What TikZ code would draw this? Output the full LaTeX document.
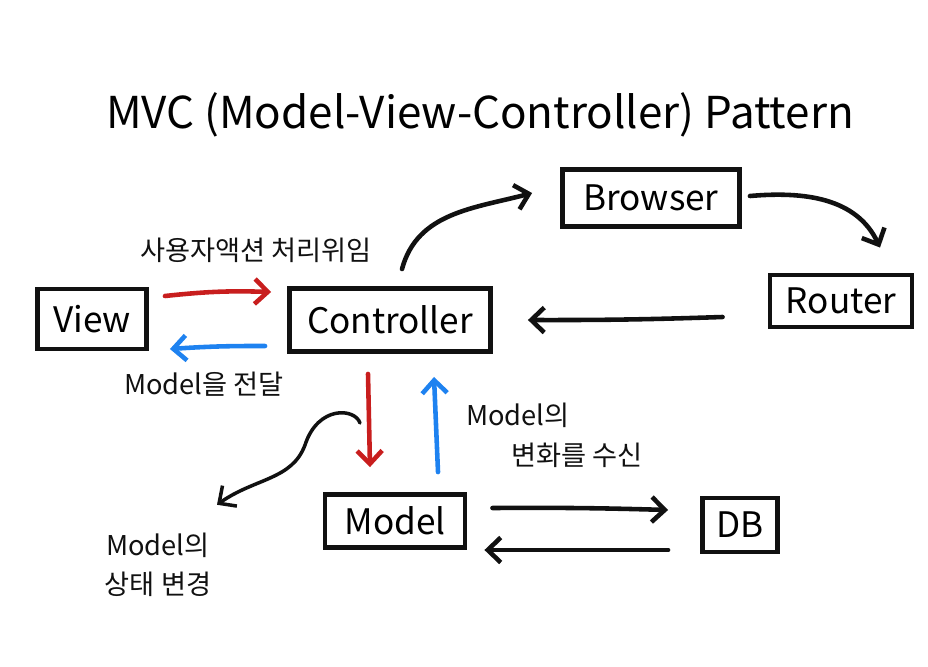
\documentclass[tikz,border=0pt]{standalone}
\usepackage{fontspec}
\setmainfont{Noto Sans CJK KR}
\usetikzlibrary{arrows.meta, positioning, calc}
\definecolor{cred}{HTML}{C81E1E}
\definecolor{cblue}{HTML}{1E82F0}
\definecolor{cink}{HTML}{111111}
\tikzset{
  every picture/.style={line width=2.6pt, line cap=round},
  box/.style={draw=cink, line width=2.8pt, align=center, inner sep=2pt, font=\fontsize{20}{22}\selectfont},
  arrow/.style={-{Straight Barb[length=2.6mm, width=5mm]}, draw=#1, line width=2.6pt},
  arrow/.default=cink,
  title/.style={font=\fontsize{25}{28}\selectfont},
  note/.style={font=\fontsize{15.5}{22.5}\selectfont, align=center, text=cink},
}

\begin{document}
\begin{tikzpicture}[x=0.02cm, y=-0.02cm]
  \useasboundingbox (0,0) rectangle (928,666);
  \node[title] (head) at (480,115) {MVC (Model-View-Controller) Pattern};
  % boxes
  \node[box, minimum width=2.18cm, minimum height=1.2cm] (view) at (92,319) {View};
  \node[box, minimum width=4.02cm, minimum height=1.26cm] (ctrl) at (390,320) {Controller};
  \node[box, minimum width=3.54cm, minimum height=1.14cm] (browser) at (651,198) {Browser};
  \node[box, minimum width=2.84cm, minimum height=1.04cm] (router) at (841,301) {Router};
  \node[box, minimum width=2.8cm, minimum height=1.06cm] (model) at (395,521) {Model};
  \node[box, minimum width=1.5cm, minimum height=1.08cm] (db) at (740,525) {DB};
  % view <-> controller
  \draw[arrow=cred] ([shift={(16,-23)}]view.east) to[bend left=4] ([shift={(-16,-28)}]ctrl.west);
  \draw[arrow=cblue] ([shift={(-22,26)}]ctrl.west) to[bend right=2] ([shift={(21,30)}]view.east);
  \node[note] (delegate) at (256,250) {사용자액션 처리위임};
  \node[note] (pass) at (204,384) {Model을 전달};
  % request loop
  \draw[arrow] ([shift={(12,-17)}]ctrl.north) to[out=75, in=195] ([shift={(-28,-5)}]browser.west);
  \draw[arrow] ([shift={(8,-2)}]browser.east) to[out=5, in=115] ([shift={(39,-25)}]router.north);
  \draw[arrow] ([shift={(-45,16)}]router.west) to[bend left=1] ([shift={(35,0)}]ctrl.east);
  % controller <-> model
  \draw[arrow=cred] ([shift={(-22,20)}]ctrl.south) -- ([shift={(-25,-25)}]model.north);
  \draw[arrow=cblue] ([shift={(43,-20)}]model.north) -- ([shift={(44,23)}]ctrl.south);
  \node[note, anchor=west] (notify1) at (458,415) {Model의};
  \node[note, anchor=west] (notify2) at (503,455) {변화를 수신};
  % state change
  \coordinate (wave) at (360,423);
  \node[note] (state) at (158,565) {Model의\\상태 변경};
  \draw[arrow, line width=2pt] (wave) .. controls (355,408) and (318,405) .. (305,445)
    .. controls (292,480) and (255,478) .. ([shift={(59,-20)}]state.north);
  % model <-> db
  \draw[arrow] ([shift={(25,-13)}]model.east) to[bend left=1] ([shift={(-32,-15)}]db.west);
  \draw[arrow] ([shift={(-32,25)}]db.west) -- ([shift={(17,29)}]model.east);
\end{tikzpicture}
\end{document}
